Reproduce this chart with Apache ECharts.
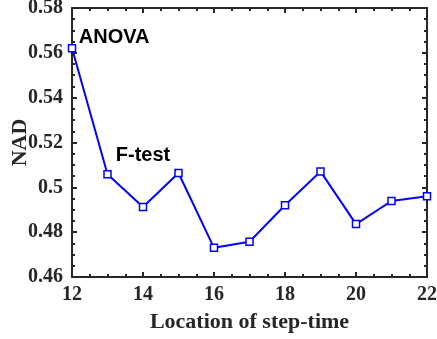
<!DOCTYPE html>
<html><head><meta charset="utf-8">
<script src="https://cdn.jsdelivr.net/npm/echarts@6/dist/echarts.min.js"></script>
<style>html,body{margin:0;padding:0;background:#fff}#c{width:437px;height:339px}</style>
</head><body><div id="c"></div>
<script>
const locations = [12,13,14,15,16,17,18,19,20,21,22];
const nadValues = [0.562,0.5058,0.4912,0.5064,0.473,0.4757,0.492,0.5071,0.4836,0.4939,0.496];
const annotations = {0:'ANOVA',1:'F-test'};
const xTitle = 'Location of step-time';
const yTitle = 'NAD';

const serif = '"Liberation Serif","Times New Roman",serif';
const sans = '"Liberation Sans",Arial,sans-serif';
const data = locations.map((x,i)=>{
  const d = {value:[x,nadValues[i]]};
  if (annotations[i]) {
    d.label = {show:true, formatter:annotations[i], fontFamily:sans, fontWeight:'bold', fontSize:20, color:'#000',
      position: i===0 ? [11,-17] : [12.5,-25]};
  }
  return d;
});
const axisLine = {show:true, lineStyle:{color:'#262626', width:2}};
const tick = {inside:true,length:5,lineStyle:{color:'#262626',width:2}};
const minor = {show:true,splitNumber:4,length:3,lineStyle:{color:'#262626',width:2}};
const chart = echarts.init(document.getElementById('c'));
chart.setOption({
  animation:false,
  grid:{left:72,right:10,top:8,bottom:62,outerBoundsMode:'none',containLabel:false},
  xAxis:[{type:'value',min:12,max:22,interval:2,position:'bottom',
    axisLine, axisTick:tick, minorTick:minor, splitLine:{show:false},
    axisLabel:{fontFamily:serif,fontWeight:'bold',fontSize:20,color:'#262626',margin:8},
    name:xTitle,nameLocation:'middle',nameGap:34,nameMoveOverlap:false,
    nameTextStyle:{fontFamily:serif,fontWeight:'bold',fontSize:22,color:'#262626'}},
    {type:'value',min:12,max:22,interval:2,position:'top',
    axisLine, axisTick:tick, minorTick:minor, splitLine:{show:false},axisLabel:{show:false}}],
  yAxis:[{type:'value',min:0.46,max:0.58,interval:0.02,position:'left',
    axisLine, axisTick:tick, minorTick:minor, splitLine:{show:false},
    axisLabel:{fontFamily:serif,fontWeight:'bold',fontSize:20,color:'#262626',margin:9,
      formatter:v=>String(parseFloat(v.toFixed(2)))},
    name:yTitle,nameLocation:'middle',nameGap:41,nameRotate:90,nameMoveOverlap:false,
    nameTextStyle:{fontFamily:serif,fontWeight:'bold',fontSize:22,color:'#262626'}},
    {type:'value',min:0.46,max:0.58,interval:0.02,position:'right',
    axisLine, axisTick:tick, minorTick:minor, splitLine:{show:false},axisLabel:{show:false}}],
  series:[{type:'line',data,symbol:'rect',symbolSize:7,showSymbol:true,
    lineStyle:{color:'#0000ff',width:2},
    itemStyle:{color:'#ffffff',borderColor:'#0000ff',borderWidth:1.5},
    z:5}]
});
</script></body></html>
